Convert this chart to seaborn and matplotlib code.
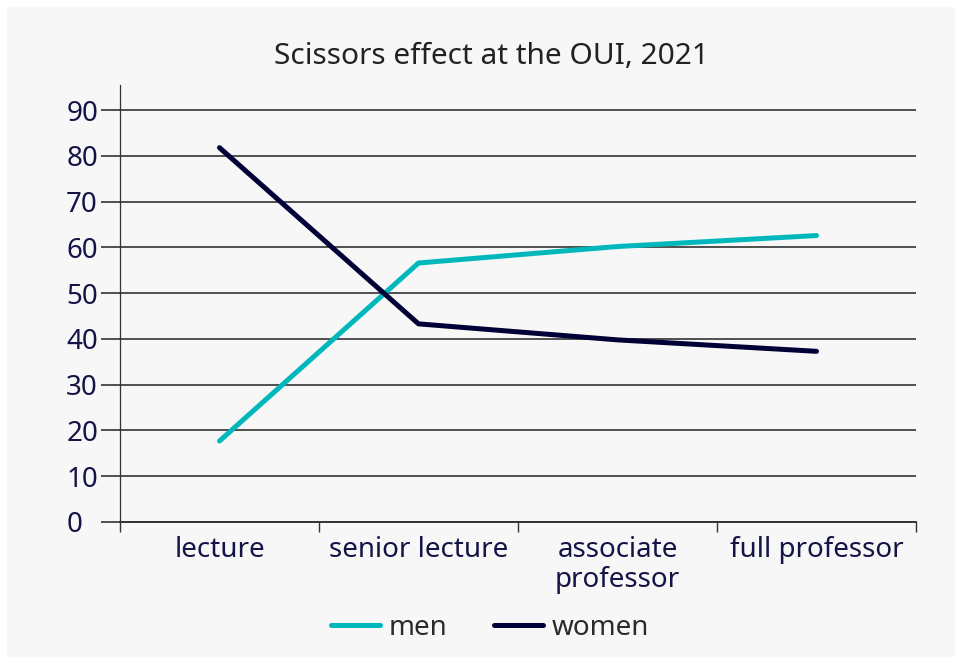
import matplotlib
matplotlib.use("Agg")
import matplotlib.pyplot as plt
import seaborn as sns
import pandas as pd
from matplotlib.patches import Rectangle

# data (share in %)
positions = ["lecture", "senior lecture", "associate\nprofessor", "full professor"]
men = [17.7, 56.6, 60.2, 62.6]
women = [81.8, 43.3, 39.8, 37.3]

df = pd.DataFrame({
    "position": positions * 2,
    "share": men + women,
    "sex": ["men"] * len(positions) + ["women"] * len(positions),
})

sns.set_theme(style="white")
plt.rcParams["font.family"] = ["Noto Sans", "DejaVu Sans"]

W, H = 962, 664
fig = plt.figure(figsize=(W / 100, H / 100), dpi=100, facecolor="white")
# light grey panel inside a thin white frame
fig.patches.append(Rectangle((7 / W, 7 / H), 1 - 14 / W, 1 - 14 / H,
                             transform=fig.transFigure, facecolor="#f7f7f7",
                             edgecolor="none", zorder=-1))

ax = fig.add_axes([120 / W, 1 - 522 / H, (916 - 120) / W, (522 - 85) / H])
ax.set_facecolor("none")

palette = {"men": "#00b8bc", "women": "#000036"}
sns.lineplot(data=df, x="position", y="share", hue="sex", palette=palette,
             linewidth=3.6, sort=False, legend=False, ax=ax, zorder=3)

ax.set_xlim(-0.5, 3.5)
ax.set_ylim(0, 95.5)
ax.set_yticks(range(0, 91, 10))
ax.grid(axis="y", color="#333333", linewidth=1.2)
ax.grid(axis="x", visible=False)
ax.set_axisbelow(True)

for s in ["top", "right"]:
    ax.spines[s].set_visible(False)
ax.spines["left"].set_color("#333333")
ax.spines["left"].set_linewidth(0.9)
ax.spines["bottom"].set_color("#333333")
ax.spines["bottom"].set_linewidth(1.4)

label_color = "#141446"
# y labels are left-aligned in the reference
ax.tick_params(axis="y", length=13.7, width=1.2, color="#333333", pad=25,
               labelsize=20, labelcolor=label_color, left=True)
for lbl in ax.get_yticklabels():
    lbl.set_horizontalalignment("left")

ax.set_xticks(range(len(positions)))
ax.set_xticklabels(positions, linespacing=1.1)
ax.tick_params(axis="x", which="major", length=0, pad=10, labelsize=20,
               labelcolor=label_color)
ax.set_xticks([i - 0.5 for i in range(len(positions) + 1)], minor=True)
ax.tick_params(axis="x", which="minor", length=7, width=1.0, color="#333333",
               bottom=True)
for lbl in ax.get_xticklabels():
    lbl.set_verticalalignment("top")
ax.set_xlabel("")
ax.set_ylabel("")

fig.text(491 / W, 1 - 57 / H, "Scissors effect at the OUI, 2021", ha="center",
         va="center", fontsize=21.5, color="#222222")

handles = [plt.Line2D([], [], color=palette[k], linewidth=3.6) for k in ["men", "women"]]
fig.legend(handles, ["men", "women"], loc="center",
           bbox_to_anchor=(490 / W, 1 - 628 / H), ncol=2, frameon=False,
           fontsize=20, handlelength=1.75, handletextpad=0.3, columnspacing=1.7,
           labelcolor="#2a2a2a")

fig.savefig("out.png", dpi=100, facecolor=fig.get_facecolor())
